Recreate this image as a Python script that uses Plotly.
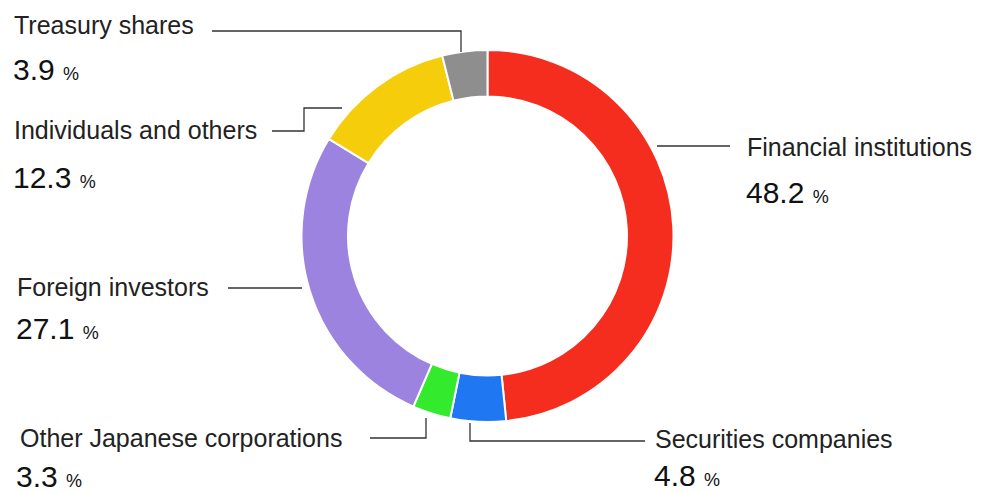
import plotly.graph_objects as go

# Shareholder composition (clockwise from 12 o'clock)
categories = [
    "Financial institutions",
    "Securities companies",
    "Other Japanese corporations",
    "Foreign investors",
    "Individuals and others",
    "Treasury shares",
]
shares = [48.2, 4.8, 3.3, 27.1, 12.3, 3.9]
colors = ["#F42D1F", "#1F78F2", "#33EA2C", "#9C83E0", "#F5CD0B", "#8E8E8E"]

W, H = 984, 493
FONT = "Liberation Sans, Arial, sans-serif"


def px(x, y):
    """Pixel position (from top-left) to paper coordinates."""
    return x / W, 1 - y / H


fig = go.Figure(
    go.Pie(
        labels=categories,
        values=shares,
        sort=False,
        direction="clockwise",
        rotation=0,
        hole=0.75,
        marker=dict(colors=colors, line=dict(color="white", width=2)),
        textinfo="none",
        hoverinfo="label+text",
        text=[f"{v}%" for v in shares],
        showlegend=False,
        domain=dict(x=[301.5 / W, 673.5 / W], y=[1 - 422 / H, 1 - 50 / H]),
    )
)

# label name position, value position (pixels), and leader line path (pixels)
label_layout = {
    "Financial institutions": ((745, 147), (745, 192), [(657, 146), (730, 146)]),
    "Securities companies": ((653, 439), (653, 475), [(645, 441), (470, 441), (470, 423)]),
    "Other Japanese corporations": ((18, 438), (15, 476), [(370, 438), (426, 438), (426, 418)]),
    "Foreign investors": ((15, 287), (15, 328), [(228, 288), (302, 288)]),
    "Individuals and others": ((12, 130), (12, 177), [(272, 131), (304, 131), (304, 108), (342, 108)]),
    "Treasury shares": ((12, 25), (12, 70), [(212, 31), (461, 31), (461, 52)]),
}

annotations = []
shapes = []
for name, value in zip(categories, shares):
    (lx, ly), (vx, vy), path = label_layout[name]
    ax, ay = px(lx, ly)
    annotations.append(dict(
        x=ax, y=ay, xref="paper", yref="paper", xanchor="left", yanchor="middle",
        text=name, showarrow=False,
        font=dict(family=FONT, size=25, color="#222222"),
    ))
    bx, by = px(vx, vy)
    annotations.append(dict(
        x=bx, y=by, xref="paper", yref="paper", xanchor="left", yanchor="middle",
        text=f"{value} <span style='font-size:18px'>%</span>",
        showarrow=False, borderpad=0,
        font=dict(family=FONT, size=30, color="#111111"),
    ))
    pts = [px(x, y) for x, y in path]
    d = "M " + " L ".join(f"{x},{y}" for x, y in pts)
    shapes.append(dict(
        type="path", path=d, xref="paper", yref="paper",
        line=dict(color="#333333", width=1.3),
    ))

fig.update_layout(
    width=W, height=H,
    margin=dict(l=0, r=0, t=0, b=0),
    paper_bgcolor="white", plot_bgcolor="white",
    annotations=annotations,
    shapes=shapes,
)

fig.write_html("out.html")
